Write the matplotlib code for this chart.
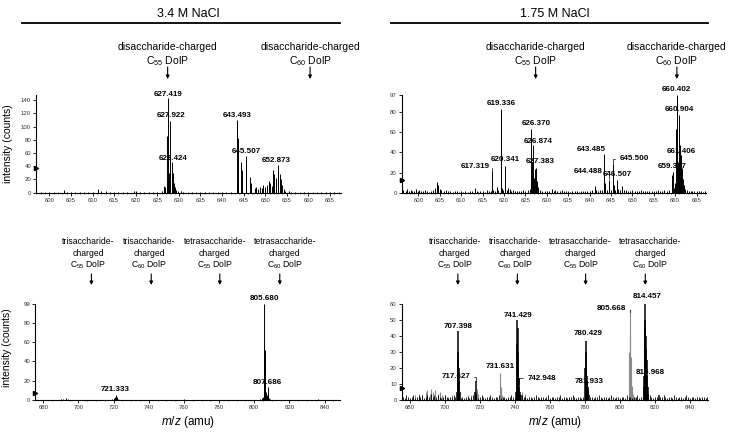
import matplotlib
matplotlib.use("Agg")
import matplotlib.pyplot as plt
import numpy as np

plt.rcParams['font.family'] = ['Liberation Sans', 'DejaVu Sans']
plt.rcParams['mathtext.fontset'] = 'custom'
plt.rcParams['mathtext.rm'] = 'Liberation Sans'
plt.rcParams['mathtext.it'] = 'Liberation Sans:italic'

# ---- data: 3.4 M NaCl, m/z 597-667 ----
tl_mz = [597, 598, 599, 600, 601, 602, 603.3, 604, 605, 606, 607, 608, 609, 610, 611.3, 612, 613, 614,
         615, 616, 617, 618, 619.6, 620, 621, 622, 623, 624, 625, 626, 626.5, 626.65, 626.85, 627.2,
         627.3, 627.42, 627.55, 627.8, 627.92, 628.05, 628.3, 628.42, 628.55, 628.9, 629.0, 629.4,
         629.9, 630.5, 631, 632, 633, 634, 635, 636, 637, 638, 639, 640, 641, 642, 643.38, 643.49,
         643.62, 643.8, 644.5, 644.62, 645.5, 645.62, 646.5, 646.62, 647.6, 647.9, 648.3, 648.7,
         649.2, 649.6, 650.0, 650.4, 650.8, 651.1, 651.5, 651.9, 652.1, 652.4, 652.6, 652.87,
         653.0, 653.4, 653.6, 653.9, 654.3, 654.7, 655.5, 656, 657, 658, 659, 660, 661, 662, 663,
         664, 665, 666, 667]
tl_int = [1, 0.5, 1, 0.5, 1, 1, 4, 1, 1.5, 1, 0.5, 1, 0.5, 1, 6, 2, 2.5, 1,
          1, 1, 0.5, 1, 3, 2, 1, 1, 0.5, 1, 1, 2, 5, 10, 8, 12,
          85, 143, 20, 30, 108, 15, 28, 47, 30, 15, 8, 4,
          2, 3, 1.5, 1, 1.5, 1, 0.5, 1, 1, 0.5, 1, 1, 1, 1, 12, 110,
          83, 10, 46, 35, 55, 40, 23, 15, 7, 8, 6, 9,
          7, 12, 9, 11, 17, 14, 10, 34, 28, 22, 15, 42,
          32, 28, 20, 12, 5, 2, 2, 1, 1, 0.5, 1, 1, 1.5, 1, 0.5,
          1, 1, 0.5, 1]
tl_labels = [('627.419', 627.5, 149), ('627.922', 628.2, 116), ('628.424', 628.7, 52),
             ('643.493', 643.5, 117), ('645.507', 645.7, 62), ('652.873', 652.6, 48)]

# ---- data: 1.75 M NaCl, m/z 597-667 ----
tr_mz = [596.5, 597, 597.4, 597.8, 598.2, 598.6, 599, 599.4, 599.8, 600.2, 600.6, 601, 601.5, 602,
         602.5, 603, 603.5, 604, 604.3, 604.6, 605, 605.4, 606, 606.5, 607, 607.5, 608, 608.5, 609,
         609.5, 610, 610.5, 611, 611.5, 612, 612.5, 613.2, 613.6, 614, 614.5, 615, 615.5, 616, 616.5,
         617, 617.32, 617.5, 618, 618.3, 618.7, 619.2, 619.34, 619.5, 619.8, 620.2, 620.34, 620.6,
         621, 621.3, 621.7, 622, 622.5, 623, 623.5, 624, 624.5, 625, 625.5, 626, 626.25, 626.37,
         626.5, 626.75, 626.87, 627.0, 627.2, 627.38, 627.55, 627.75, 628, 628.4, 629, 629.5, 630,
         630.5, 631.2, 631.6, 632, 632.5, 633, 633.5, 634, 634.5, 635, 635.5, 636, 636.5, 637,
         637.5, 638, 638.5, 639, 639.5, 640, 640.5, 641.2, 641.6, 642, 642.5, 643, 643.37, 643.49,
         643.65, 644.0, 644.49, 644.65, 645.0, 645.5, 645.65, 646.0, 646.5, 646.7, 647.0, 647.5,
         648, 648.5, 649, 649.5, 650, 650.5, 651, 651.5, 652, 652.5, 653, 653.5, 654, 654.5, 655,
         655.5, 656, 656.5, 657, 657.5, 658, 658.5, 659.2, 659.4, 659.7, 660.0, 660.2, 660.4,
         660.6, 660.8, 660.9, 661.05, 661.25, 661.41, 661.6, 661.85, 662.1, 662.4, 662.8, 663.2,
         663.6, 664, 664.5, 665, 665.5, 666, 666.5, 667]
tr_int = [3, 2, 4, 2, 3, 2, 2, 4, 2, 3, 2, 2, 3, 2,
          1, 2, 3, 5, 11, 8, 4, 3, 2, 3, 2, 2, 1, 2, 2,
          1, 2, 1, 2, 1, 2, 2, 5, 2, 1, 2, 2, 1, 3, 2,
          2, 22, 3, 2, 6, 3, 55, 83, 5, 3, 8, 27, 3,
          5, 4, 2, 3, 2, 2, 2, 2, 3, 2, 3, 4, 20, 63,
          30, 20, 47, 15, 24, 25, 10, 12, 6, 3, 2, 2, 2,
          2, 4, 2, 3, 2, 2, 3, 2, 2, 2, 1, 2, 2, 2,
          1, 2, 2, 2, 2, 2, 3, 7, 3, 2, 3, 3, 25, 38,
          10, 3, 13, 5, 3, 29, 8, 3, 13, 4, 3, 7,
          3, 3, 2, 2, 3, 2, 2, 2, 3, 2, 2, 2, 2, 2, 2,
          2, 3, 2, 2, 3, 2, 3, 18, 21, 5, 10, 63, 97,
          30, 50, 77, 47, 35, 37, 25, 14, 8, 4, 3, 2,
          2, 2, 2, 2, 2, 2, 1, 2]
tr_labels = [('619.336', 619.3, 89), ('626.370', 627.6, 69), ('626.874', 628.0, 51),
             ('627.383', 628.4, 31), ('620.341', 620.2, 32.5), ('643.485', 640.4, 43),
             ('646.507', 646.4, 17.6), ('659.397', 659.35, 26.5), ('660.402', 660.4, 103),
             ('660.904', 661.05, 83), ('661.406', 661.45, 41)]
tr_leaders = [('617.319', 613.2, 25.8, 617.32, 22), ('644.488', 639.7, 21.5, 644.45, 14),
              ('645.500', 650.4, 33.8, 645.5, 29)]

# ---- data: 3.4 M NaCl, m/z 675-849 ----
bl_mz = [677, 685, 690, 691.5, 693, 694, 700, 710, 719, 720.3, 720.8, 721.33, 721.8, 722.3, 730,
         740, 745, 750, 760, 770, 780, 790, 800, 803.5, 804.3, 805.2, 805.5, 805.68, 805.85, 806.1,
         806.3, 806.6, 807.0, 807.5, 807.69, 807.9, 808.3, 809, 815, 820, 825, 830, 836, 840, 845]
bl_int = [0.5, 0.5, 1, 1, 2, 1, 0.5, 0.5, 1, 2, 3, 5, 3, 1, 0.5,
          0.5, 0.5, 0.5, 1.5, 0.5, 0.5, 0.5, 0.5, 1, 2, 3, 40, 99, 52, 46,
          25, 8, 5, 4, 13, 4, 2, 1, 0.5, 0.5, 0.5, 0.5, 1, 0.5, 0.5]
bl_labels = [('805.680', 805.6, 105), ('807.686', 807.5, 18.6), ('721.333', 720.7, 11)]

# ---- data: 1.75 M NaCl, m/z 675-850 (black and grey traces) ----
br_noise_mz = np.arange(676, 851, 1)
br_noise = [2, 1, 3, 2, 1, 2, 3, 1, 2, 3, 2, 3, 1, 2, 3, 2, 4, 2, 3, 2,
            3, 2, 1, 2, 3, 2, 1, 2, 2, 3, 2, 2, 2, 1, 2, 1, 2, 2, 1, 2,
            3, 2, 2, 1, 2, 3, 2, 1, 2, 2, 3, 2, 1, 2, 2, 3, 1, 2, 2, 1,
            2, 2, 3, 2, 1, 2, 2, 1, 3, 2, 2, 1, 2, 2, 1, 2, 3, 2, 1, 2,
            2, 1, 2, 3, 1, 2, 2, 1, 2, 2, 3, 1, 2, 2, 1, 2, 2, 3, 2, 1,
            2, 2, 1, 2, 3, 2, 1, 2, 2, 1, 2, 2, 3, 2, 1, 2, 2, 1, 2, 3,
            2, 1, 2, 2, 1, 2, 2, 1, 3, 2, 2, 1, 2, 2, 3, 1, 2, 2, 1, 2,
            2, 3, 2, 1, 2, 2, 1, 2, 2, 3, 2, 1, 2, 2, 1, 3, 2, 1, 2, 2,
            1, 2, 3, 2, 1, 2, 2, 1, 2, 2, 1, 2, 2, 1, 2]
br_mz = [706.8, 707.2, 707.4, 707.6, 707.8, 708.0, 708.3, 708.6, 717.4, 717.63, 717.9, 740.8, 741.2,
         741.43, 741.6, 741.8, 742.0, 742.2, 742.5, 742.95, 743.4, 780.2, 780.43, 780.6, 780.8, 781.0,
         781.2, 781.5, 781.93, 782.3, 813.5, 814.0, 814.3, 814.46, 814.6, 814.8, 815.0, 815.2, 815.5,
         815.97, 816.3, 822.5]
br_int = [5, 25, 43, 30, 20, 12, 8, 5, 5, 12, 4, 5, 35,
          50, 45, 30, 20, 14, 8, 5, 3, 20, 37, 30, 21, 15,
          12, 8, 6, 3, 8, 15, 45, 60, 50, 40, 32, 25, 15,
          8, 4, 3]
br_grey_mz = [683, 685, 687, 689, 690, 691.5, 692, 693, 694.5, 696, 697, 698.5, 700, 702, 704, 713,
              715, 718.3, 718.7, 719, 731.63, 732.0, 732.5, 744, 745.5, 746, 805.4, 805.67, 805.9,
              806.2, 806.5, 807.0, 807.6, 808.5, 813, 815.8]
br_grey_int = [3, 4, 3, 5, 6, 4, 7, 5, 6, 4, 5, 3, 3, 2, 3, 3,
               3, 7, 4, 3, 17, 8, 3, 5, 4, 3, 30, 57, 40,
               27, 15, 9, 4, 2, 2, 4]
br_labels = [('707.398', 707.5, 46.4), ('741.429', 741.8, 52.7), ('814.457', 815.6, 64.8),
             ('780.429', 781.6, 41.4), ('731.631', 731.5, 20.9), ('781.933', 782.4, 11.9),
             ('815.968', 817.3, 17.4)]
br_leaders = [('805.668', 795.0, 57.1, 805.6, 55), ('717.627', 706.2, 14.6, 717.8, 12),
              ('742.948', 755.3, 13.6, 742.3, 10)]

top_arrows = [627.4, 660.4]
top_texts = ['disaccharide-charged\nC$_{55}$ DolP', 'disaccharide-charged\nC$_{60}$ DolP']
bot_arrows = [707.4, 741.4, 780.4, 814.5]
bot_texts = ['trisaccharide-\ncharged\nC$_{55}$ DolP', 'trisaccharide-\ncharged\nC$_{60}$ DolP',
             'tetrasaccharide-\ncharged\nC$_{55}$ DolP', 'tetrasaccharide-\ncharged\nC$_{60}$ DolP']
bot_shift = [-3, -2, -5, 5]

fig = plt.figure(figsize=(7.29, 4.34), dpi=100)
ax_tl = fig.add_axes([0.0494, 0.556, 0.418, 0.224])
ax_tr = fig.add_axes([0.551, 0.556, 0.418, 0.225])
ax_bl = fig.add_axes([0.048, 0.0783, 0.419, 0.2205])
ax_br = fig.add_axes([0.551, 0.0783, 0.4206, 0.2205])

lab_kw = dict(fontsize=5.8, fontweight='bold', ha='center', va='center', clip_on=False)


def style(ax, xlim, ylim, xticks, yticks, xminor, marker_y):
    ax.set_xlim(*xlim)
    ax.set_ylim(*ylim)
    ax.set_xticks(xticks)
    ax.set_yticks(yticks)
    ax.set_xticks(xminor, minor=True)
    for s in ['top', 'right']:
        ax.spines[s].set_visible(False)
    for s in ['left', 'bottom']:
        ax.spines[s].set_linewidth(0.8)
    ax.tick_params(which='major', direction='out', length=2, width=0.6, labelsize=4.3,
                   labelcolor='#333333', pad=1.5)
    ax.tick_params(which='minor', direction='out', length=1, width=0.4)
    ax.plot([xlim[0]], [marker_y], marker='>', ms=3, color='black', clip_on=False)


def labels(ax, lab, lead):
    for t, x, y in lab:
        ax.text(x, y, t, **lab_kw)
    for t, x, y, px, py in lead:
        ax.annotate(t, xy=(px, py), xytext=(x, y), fontsize=5.8, fontweight='bold',
                    ha='center', va='center', annotation_clip=False,
                    arrowprops=dict(arrowstyle='-', lw=0.5, color='black', shrinkA=1, shrinkB=0,
                                    connectionstyle='angle,angleA=0,angleB=90,rad=0'))


# top left
ax_tl.vlines(tl_mz, 0, tl_int, color='black', lw=0.7)
style(ax_tl, (596.9, 667.5), (0, 147), np.arange(600, 666, 5), np.arange(0, 141, 20),
      np.arange(597, 668, 1), 37)
labels(ax_tl, tl_labels, [])
ax_tl.set_ylabel('intensity (counts)', fontsize=7.5)
ax_tl.yaxis.set_label_coords(-0.075, 0.5)

# top right
ax_tr.vlines(tr_mz, 0, tr_int, color='black', lw=0.7)
style(ax_tr, (596.1, 667.3), (0, 97), np.arange(600, 666, 5), [0, 20, 40, 60, 80, 97],
      np.arange(597, 668, 1), 12.6)
labels(ax_tr, tr_labels, tr_leaders)

# bottom left
ax_bl.vlines(bl_mz, 0, bl_int, color='black', lw=0.7)
style(ax_bl, (675.3, 849), (0, 99), np.arange(680, 841, 20), [0, 20, 40, 60, 80, 99],
      np.arange(680, 850, 5), 7.2)
labels(ax_bl, bl_labels, [])
ax_bl.set_ylabel('intensity (counts)', fontsize=7.5)
ax_bl.yaxis.set_label_coords(-0.075, 0.55)
ax_bl.set_xlabel('$m/z$ (amu)', fontsize=8.5, labelpad=3)

# bottom right
ax_br.vlines(br_grey_mz, 0, br_grey_int, color='#8a8a8a', lw=0.8)
ax_br.vlines(br_noise_mz, 0, br_noise, color='black', lw=0.6)
ax_br.vlines(br_mz, 0, br_int, color='black', lw=1.1)
style(ax_br, (675.3, 850.5), (0, 60), np.arange(680, 841, 20), np.arange(0, 61, 10),
      np.arange(680, 851, 5), 7.5)
labels(ax_br, br_labels, br_leaders)
ax_br.set_xlabel('$m/z$ (amu)', fontsize=8.5, labelpad=3)

# headers
fig.text(188 / 729, 1 - 14 / 434, '3.4 M NaCl', ha='center', va='center', fontsize=9)
fig.text(555 / 729, 1 - 14 / 434, '1.75 M NaCl', ha='center', va='center', fontsize=9)
fig.add_artist(plt.Line2D([22 / 729, 340 / 729], [1 - 23 / 434] * 2, color='black', lw=1.3))
fig.add_artist(plt.Line2D([391 / 729, 708 / 729], [1 - 23 / 434] * 2, color='black', lw=1.3))

arr = dict(arrowstyle='-|>', color='black', lw=0.8, mutation_scale=5, shrinkA=0, shrinkB=0)
for ax in [ax_tl, ax_tr]:
    for mz, t in zip(top_arrows, top_texts):
        l1, l2 = t.split('\n')
        ax.annotate(l1, xy=(mz, 1 - 47 / 434), xycoords=('data', 'figure fraction'),
                    ha='center', va='center', fontsize=7.5, annotation_clip=False)
        ax.annotate(l2, xy=(mz, 1 - 61 / 434), xycoords=('data', 'figure fraction'),
                    ha='center', va='center', fontsize=7.5, annotation_clip=False)
        ax.annotate('', xy=(mz, 1 - 79 / 434), xytext=(mz, 1 - 67 / 434),
                    xycoords=('data', 'figure fraction'), textcoords=('data', 'figure fraction'),
                    arrowprops=arr, annotation_clip=False)
for ax in [ax_bl, ax_br]:
    for mz, t, dx in zip(bot_arrows, bot_texts, bot_shift):
        for line, yy in zip(t.split('\n'), [241.7, 253.3, 265]):
            ax.annotate(line, xy=(mz, 1 - yy / 434), xycoords=('data', 'figure fraction'),
                        xytext=(dx, 0), textcoords='offset pixels',
                        ha='center', va='center', fontsize=6.2, annotation_clip=False)
        ax.annotate('', xy=(mz, 1 - 285 / 434), xytext=(mz, 1 - 274 / 434),
                    xycoords=('data', 'figure fraction'), textcoords=('data', 'figure fraction'),
                    arrowprops=arr, annotation_clip=False)

fig.savefig('out.png', dpi=100)
